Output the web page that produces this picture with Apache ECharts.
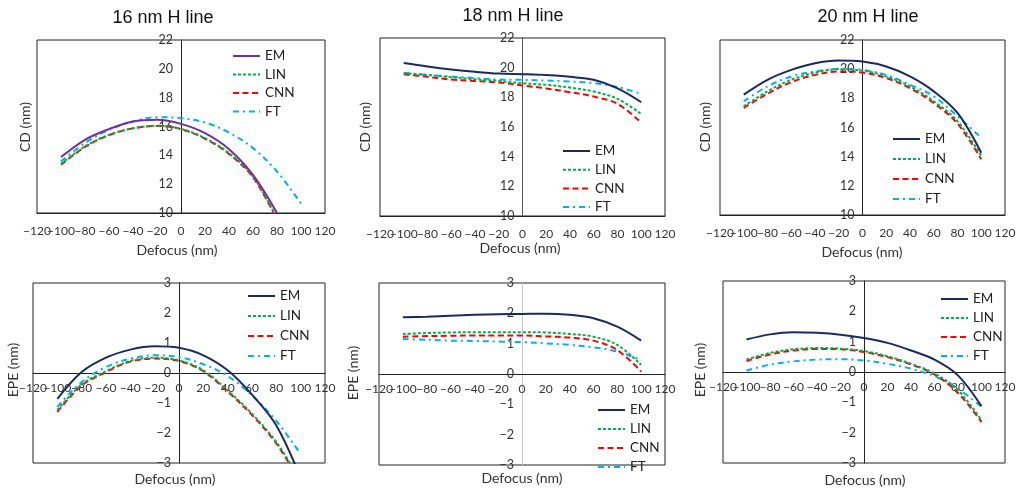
<!DOCTYPE html>
<html>
<head>
<meta charset="utf-8">
<script src="https://cdn.jsdelivr.net/npm/echarts@6/dist/echarts.min.js"></script>
<style>
html,body{margin:0;padding:0;background:#fff;}
#c{width:1020px;height:491px;}
</style>
</head>
<body>
<div id="c"></div>
<script>
// ---- data ----
const DEFOCUS = [-100, -80, -60, -40, -20, 0, 20, 40, 60, 80, 100];
const PANEL_TITLES = ['16 nm H line', '18 nm H line', '20 nm H line'];
const SERIES_NAMES = ['EM', 'LIN', 'CNN', 'FT'];
const X_TICK_MIN = -120, X_TICK_MAX = 120, X_TICK_STEP = 20;
const CD_MIN = 10, CD_MAX = 22, CD_STEP = 2;
const EPE_MIN = -3, EPE_MAX = 3, EPE_STEP = 1;

// CD, 16 nm
const CD16_EM  = [13.88, 15.08, 15.82, 16.35, 16.46, 16.18, 15.54, 14.43, 12.65, 10.0, null];
const CD16_LIN = [13.41, 14.62, 15.42, 15.88, 16.05, 15.84, 15.19, 14.15, 12.54, 9.6, null];
const CD16_CNN = [13.35, 14.58, 15.40, 15.87, 16.04, 15.82, 15.15, 14.10, 12.47, 9.55, null];
const CD16_FT  = [13.58, 14.85, 15.77, 16.35, 16.65, 16.58, 16.28, 15.58, 14.50, 12.88, 10.65];
// CD, 18 nm
const CD18_EM  = [20.31, 20.08, 19.88, 19.72, 19.60, 19.56, 19.50, 19.38, 19.18, 18.60, 17.67];
const CD18_LIN = [19.63, 19.50, 19.36, 19.22, 19.10, 18.95, 18.84, 18.66, 18.39, 17.90, 16.88];
const CD18_CNN = [19.55, 19.38, 19.20, 19.10, 19.00, 18.80, 18.60, 18.35, 18.05, 17.56, 16.30];
const CD18_FT  = [19.65, 19.52, 19.40, 19.30, 19.20, 19.18, 19.13, 19.07, 18.96, 18.70, 18.23];
// CD, 20 nm
const CD20_EM  = [18.25, 19.27, 19.95, 20.41, 20.59, 20.52, 20.18, 19.50, 18.48, 17.00, 14.27];
const CD20_LIN = [17.45, 18.48, 19.27, 19.77, 20.00, 19.91, 19.50, 18.82, 17.80, 16.43, 14.05];
const CD20_CNN = [17.34, 18.32, 19.11, 19.61, 19.84, 19.77, 19.39, 18.70, 17.68, 16.27, 13.82];
const CD20_FT  = [17.80, 18.82, 19.50, 19.84, 20.02, 19.95, 19.60, 18.93, 18.14, 16.77, 15.30];
// EPE, 16 nm
const EPE16_EM  = [-0.86, 0.03, 0.51, 0.78, 0.89, 0.84, 0.59, 0.09, -0.72, -1.75, -3.5];
const EPE16_LIN = [-1.24, -0.38, 0.06, 0.40, 0.51, 0.42, 0.09, -0.58, -1.36, -2.30, -3.6];
const EPE16_CNN = [-1.30, -0.42, 0.03, 0.38, 0.48, 0.40, 0.06, -0.62, -1.40, -2.35, -3.65];
const EPE16_FT  = [-1.13, -0.30, 0.20, 0.48, 0.59, 0.53, 0.29, -0.10, -0.75, -1.60, -2.70];
// EPE, 18 nm
const EPE18_EM  = [1.87, 1.89, 1.92, 1.95, 1.97, 1.98, 1.99, 1.95, 1.84, 1.56, 1.10];
const EPE18_LIN = [1.32, 1.35, 1.37, 1.38, 1.38, 1.38, 1.37, 1.32, 1.23, 0.96, 0.30];
const EPE18_CNN = [1.23, 1.25, 1.26, 1.27, 1.27, 1.27, 1.24, 1.20, 1.10, 0.79, 0.08];
const EPE18_FT  = [1.15, 1.13, 1.10, 1.09, 1.07, 1.05, 1.01, 0.96, 0.88, 0.74, 0.46];
// EPE, 20 nm
const EPE20_EM  = [1.07, 1.24, 1.31, 1.29, 1.23, 1.12, 0.96, 0.71, 0.41, -0.11, -1.13];
const EPE20_LIN = [0.41, 0.63, 0.75, 0.79, 0.77, 0.69, 0.52, 0.27, -0.05, -0.60, -1.59];
const EPE20_CNN = [0.36, 0.58, 0.71, 0.76, 0.75, 0.66, 0.49, 0.25, -0.08, -0.69, -1.65];
const EPE20_FT  = [0.05, 0.24, 0.35, 0.41, 0.42, 0.38, 0.27, 0.11, -0.14, -0.55, -1.15];

// ---- layout & style ----
const FONT = 'Lato';
const TXT = '#333';
const TICK_FS = 12;
const panels = [
  {grid:{left:37,top:40,width:288,height:173}, kind:'CD', data:[CD16_EM,CD16_LIN,CD16_CNN,CD16_FT], emColor:'#7030A0', yLine:'#222',
   legend:{left:232,top:49,gap:4.5}, title:[163,18], yName:[25,127], xName:[177,250]},
  {grid:{left:380,top:38,width:285,height:178}, kind:'CD', data:[CD18_EM,CD18_LIN,CD18_CNN,CD18_FT], emColor:'#1B2A5E', yLine:'#555',
   legend:{left:562,top:144,gap:4.7}, title:[513,16], yName:[365,127], xName:[520,248]},
  {grid:{left:720,top:40,width:285,height:175}, kind:'CD', data:[CD20_EM,CD20_LIN,CD20_CNN,CD20_FT], emColor:'#1B2A5E', yLine:'#222',
   legend:{left:892,top:132,gap:6}, title:[868,17], yName:[705,127], xName:[862,252]},
  {grid:{left:33,top:283,width:292,height:180}, kind:'EPE', data:[EPE16_EM,EPE16_LIN,EPE16_CNN,EPE16_FT], emColor:'#1B2A5E', yLine:'#222',
   legend:{left:247,top:289,gap:6}, yName:[13,370], xName:[175,479]},
  {grid:{left:379,top:283,width:286,height:182}, kind:'EPE', data:[EPE18_EM,EPE18_LIN,EPE18_CNN,EPE18_FT], emColor:'#1B2A5E', yLine:'#C8C8C8',
   legend:{left:597,top:403,gap:5}, yName:[353,373], xName:[522,478]},
  {grid:{left:723,top:281,width:282,height:182}, kind:'EPE', data:[EPE20_EM,EPE20_LIN,EPE20_CNN,EPE20_FT], emColor:'#1B2A5E', yLine:'#222',
   legend:{left:940,top:292,gap:5}, yName:[700,370], xName:[865,480]}
];

const styles = [
  {color:null, type:'solid'},
  {color:'#00B050', type:[3,2]},
  {color:'#FF0000', type:[6,3.5]},
  {color:'#00B0F0', type:[6,4,2,4]}
];

const fmt = v => String(v).replace('-', '\u2212');
// two interleaved label sets so that adjacent crowded labels are both kept
const fmtEven = v => (Math.round((v - X_TICK_MIN) / X_TICK_STEP) % 2 === 0) ? fmt(v) : '';
const fmtOdd  = v => (Math.round((v - X_TICK_MIN) / X_TICK_STEP) % 2 === 1) ? fmt(v) : '';

const grids = [], xAxes = [], yAxes = [], series = [], legends = [], graphics = [];
panels.forEach((p, i) => {
  grids.push(Object.assign({show:true, borderColor:'#222', borderWidth:1, backgroundColor:'#fff', containLabel:false}, p.grid));
  const isCD = p.kind === 'CD';
  const yMin = isCD ? CD_MIN : EPE_MIN, yMax = isCD ? CD_MAX : EPE_MAX;
  // shift axes so they sit on the zero of the other axis
  const xOffset = isCD ? 0 : -p.grid.height * (0 - yMin) / (yMax - yMin);
  const yOffset = -p.grid.width * (0 - X_TICK_MIN) / (X_TICK_MAX - X_TICK_MIN);
  [fmtEven, fmtOdd].forEach((f, h) => {
    xAxes.push({
      type:'value', gridIndex:i, min:X_TICK_MIN, max:X_TICK_MAX, interval:X_TICK_STEP,
      position:'bottom', offset:xOffset,
      axisLine:{show:h === 0, onZero:false, lineStyle:{color:'#222', width:1}},
      axisTick:{show:false}, splitLine:{show:false},
      axisLabel:{formatter:f, color:TXT, fontSize:TICK_FS, fontFamily:FONT, margin:isCD?12:9,
                 showMinLabel:true, showMaxLabel:true, hideOverlap:false}
    });
  });
  yAxes.push({
    type:'value', gridIndex:i, min:yMin, max:yMax, interval:isCD?CD_STEP:EPE_STEP,
    position:'left', offset:yOffset,
    axisLine:{show:true, onZero:false, lineStyle:{color:p.yLine, width:1}},
    axisTick:{show:false}, splitLine:{show:false},
    axisLabel:{formatter:fmt, color:TXT, fontSize:TICK_FS + 0.5, fontFamily:FONT, margin:8,
               showMinLabel:true, showMaxLabel:true, hideOverlap:false}
  });
  const names = [];
  SERIES_NAMES.forEach((nm, k) => {
    const full = nm + '|' + i;
    names.push(full);
    const color = k === 0 ? p.emColor : styles[k].color;
    const pts = [];
    p.data[k].forEach((v, j) => { if (v !== null) pts.push([DEFOCUS[j], v]); });
    series.push({
      name:full, type:'line', xAxisIndex:2 * i, yAxisIndex:i, data:pts,
      smooth:0.35, symbol:'none', showSymbol:false, clip:true, legendIcon:'none',
      lineStyle:{color:color, width:2, type:styles[k].type},
      itemStyle:{color:color}, z:10-k
    });
  });
  legends.push({
    data:names, orient:'vertical', left:p.legend.left, top:p.legend.top,
    itemWidth:27, itemHeight:12, itemGap:p.legend.gap, padding:0,
    itemStyle:{opacity:0},
    textStyle:{fontSize:13.5, color:'#222', fontFamily:FONT},
    formatter:n => n.split('|')[0], selectedMode:false
  });
  if (p.title) {
    graphics.push({type:'text', x:p.title[0], y:p.title[1],
      style:{text:PANEL_TITLES[i], fontSize:18, fontFamily:'Liberation Sans', fill:'#111', align:'center', verticalAlign:'middle'}});
  }
  graphics.push({type:'text', x:p.xName[0], y:p.xName[1],
    style:{text:'Defocus (nm)', fontSize:14, fontFamily:FONT, fill:TXT, align:'center', verticalAlign:'middle'}});
  graphics.push({type:'text', x:p.yName[0], y:p.yName[1], rotation:Math.PI/2,
    style:{text:isCD?'CD (nm)':'EPE (nm)', fontSize:14, fontFamily:FONT, fill:TXT, align:'center', verticalAlign:'middle'}});
});

const chart = echarts.init(document.getElementById('c'), null, {renderer:'canvas'});
chart.setOption({
  animation:false,
  backgroundColor:'#fff',
  grid:grids, xAxis:xAxes, yAxis:yAxes, series:series, legend:legends,
  graphic:graphics
});
</script>
</body>
</html>
